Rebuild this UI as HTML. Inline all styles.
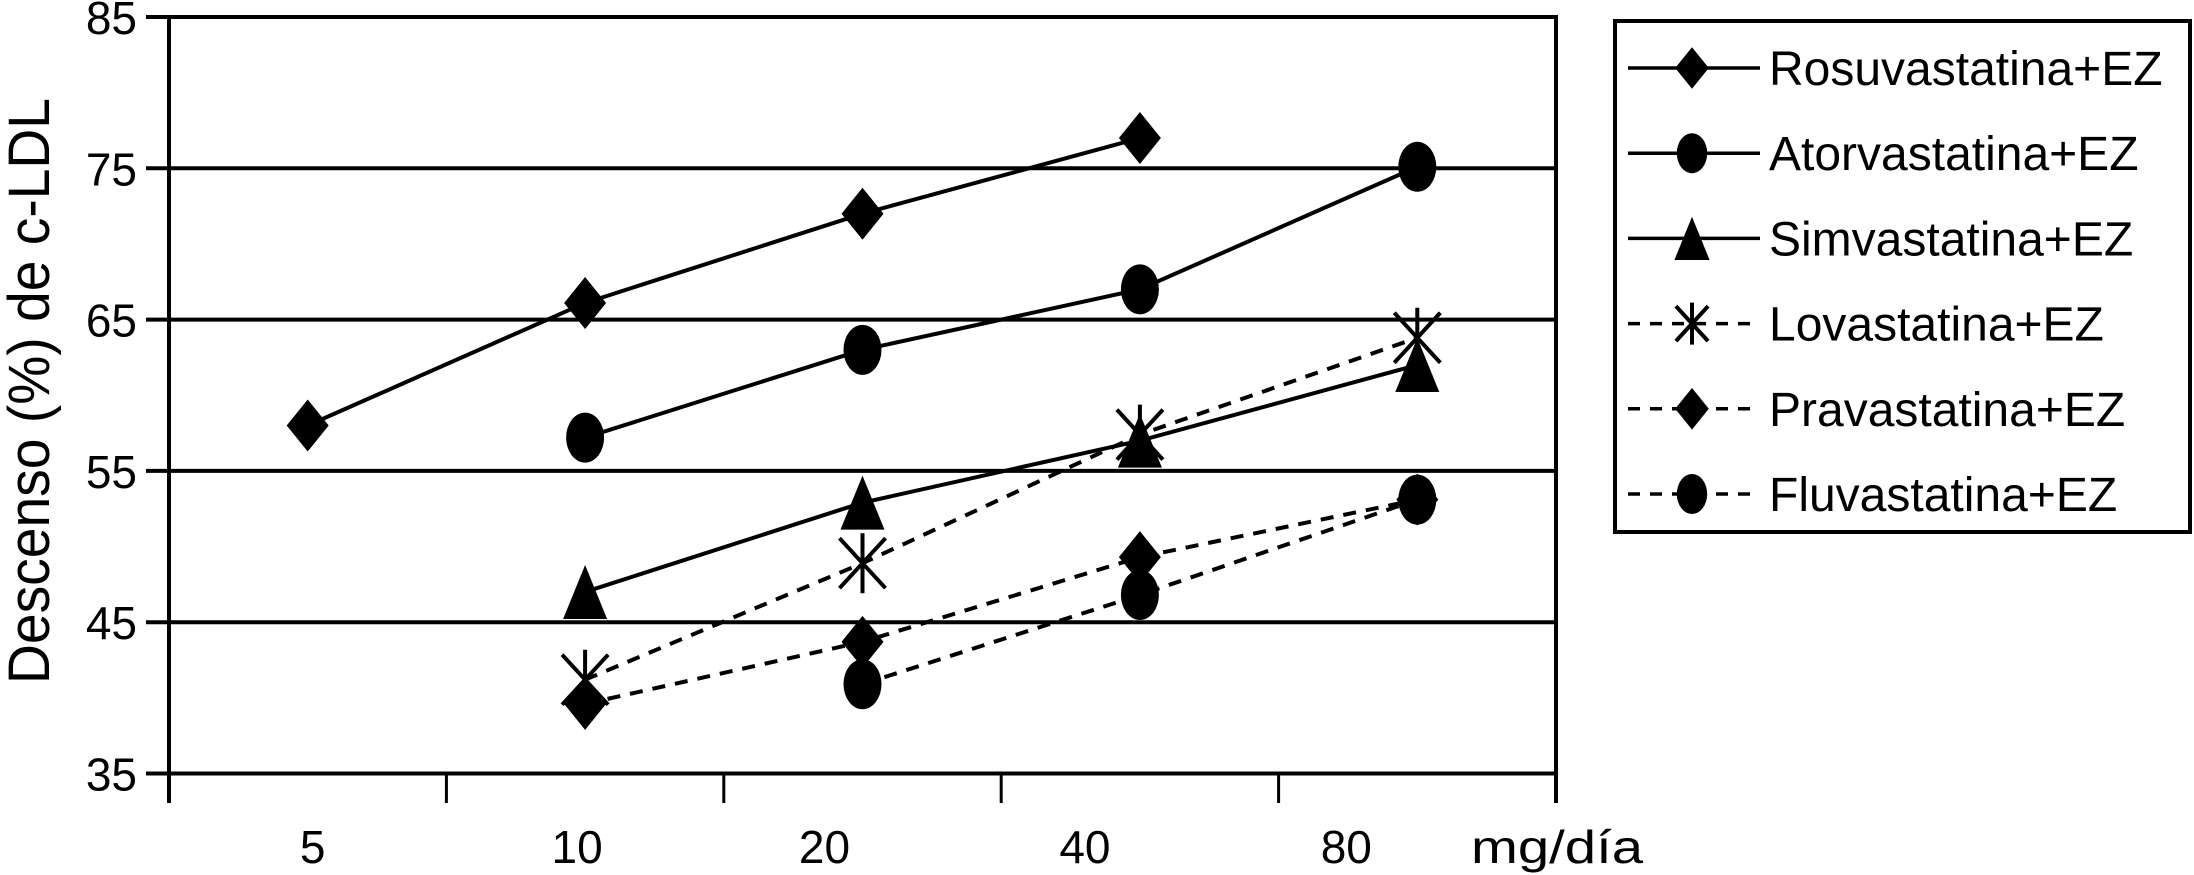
<!DOCTYPE html>
<html><head><meta charset="utf-8"><style>
html,body{margin:0;padding:0;background:#fff;}
svg{display:block;}
text{font-family:"Liberation Sans",Arial,sans-serif;fill:#000;}
</style></head><body>
<svg id="chart" width="2194" height="875" viewBox="0 0 2194 875" xmlns="http://www.w3.org/2000/svg">
<g id="grid"></g>
<g id="axes"></g>
<g id="series"></g>
<text transform="translate(49,391) rotate(-90)" text-anchor="middle" font-size="58" textLength="586" lengthAdjust="spacingAndGlyphs">Descenso (%) de c-LDL</text>
<text x="1471" y="863" font-size="46" textLength="172" lengthAdjust="spacingAndGlyphs">mg/día</text>
<g id="legend"></g>
</svg>
<script>
const categories = ["5","10","20","40","80"];
const yTicks = [35,45,55,65,75,85];
const seriesNames = ["Rosuvastatina+EZ","Atorvastatina+EZ","Simvastatina+EZ","Lovastatina+EZ","Pravastatina+EZ","Fluvastatina+EZ"];
const rosuva = [58.0,66.1,72.0,77.0,null];
const atorva = [null,57.2,63.0,67.0,75.1];
const simva  = [null,47.0,52.9,57.0,62.0];
const lova   = [null,41.2,48.9,57.4,63.8];
const prava  = [null,39.6,43.7,49.3,53.1];
const fluva  = [null,null,40.9,46.8,53.1];

const NS="http://www.w3.org/2000/svg";
const L=169,R=1556,T=17,B=773.5,Y0=35,Y1=85;
const band=(R-L)/categories.length;
const xS=i=>L+band*(i+0.5);
const yS=v=>B-(v-Y0)/(Y1-Y0)*(B-T);
function mk(tag,attrs,parent){const e=document.createElementNS(NS,tag);for(const k in attrs)e.setAttribute(k,attrs[k]);parent.appendChild(e);return e;}
const grid=document.getElementById('grid'),axes=document.getElementById('axes'),ser=document.getElementById('series'),leg=document.getElementById('legend');

yTicks.forEach(v=>{
  const y=yS(v);
  const g=mk('line',{x1:146,x2:R,y1:y,y2:y,stroke:'#000','stroke-width':4},grid);
  
  
  const t=mk('text',{x:137,y:y+17,'text-anchor':'end','font-size':46},axes);
  t.textContent=v;
  
  
});
const ya=mk('line',{x1:L,x2:L,y1:T-2,y2:803,stroke:'#000','stroke-width':4},axes);


const ra=mk('line',{x1:R,x2:R,y1:T-2,y2:803,stroke:'#000','stroke-width':4},axes);


for(let i=1;i<categories.length;i++){
  const x=L+band*i;
  const tk=mk('line',{x1:x,x2:x,y1:B,y2:803,stroke:'#000','stroke-width':3},axes);
  
  
}
const labelShift=[5,-8,-38,-55,-71];
categories.forEach((c,i)=>{
  const t=mk('text',{x:xS(i)+labelShift[i],y:863,'text-anchor':'middle','font-size':46},axes);
  t.textContent=c;
  
  
});

function marker(type,x,y,parent,s){
  s=s||1;let e;
  if(type==='diamond'){e=mk('polygon',{points:`${x},${y-26*s} ${x+21*s},${y} ${x},${y+26*s} ${x-21*s},${y}`,fill:'#000'},parent);}
  else if(type==='circle'){e=mk('ellipse',{cx:x,cy:y,rx:19*s,ry:25*s,fill:'#000'},parent);}
  else if(type==='triangle'){e=mk('polygon',{points:`${x},${y-27*s} ${x+22*s},${y+27*s} ${x-22*s},${y+27*s}`,fill:'#000'},parent);}
  else {e=mk('path',{d:`M${x},${y-30*s}V${y+30*s}M${x-23*s},${y-25*s}L${x+23*s},${y+25*s}M${x+23*s},${y-25*s}L${x-23*s},${y+25*s}`,stroke:'#000','stroke-width':4,fill:'none'},parent);}
  return e;
}
const allSeries=[rosuva,atorva,simva,lova,prava,fluva];
const markers=['diamond','circle','triangle','star','diamond','circle'];
const dashed=[false,false,false,true,true,true];
allSeries.forEach((vals,si)=>{
  const g=mk('g',{},ser);
  
  
  const pts=[];vals.forEach((v,i)=>{if(v!=null)pts.push([xS(i),yS(v)]);});
  const ln=mk('polyline',{points:pts.map(p=>p.join(',')).join(' '),fill:'none',stroke:'#000','stroke-width':4,'stroke-dasharray':dashed[si]?'13,10':'none'},g);
  
  
  pts.forEach(p=>{
    const m=marker(markers[si],p[0],p[1],g);
    
    
  });
});

const box=mk('rect',{x:1615,y:21,width:575,height:511,fill:'#fff',stroke:'#000','stroke-width':4},leg);


seriesNames.forEach((n,i)=>{
  const y=68+85.2*i;
  const g=mk('g',{},leg);
  
  
  mk('line',{x1:1628,x2:1760,y1:y,y2:y,stroke:'#000','stroke-width':3.5,'stroke-dasharray':dashed[i]?'12,10':'none'},g);
  marker(markers[i],1692,y,g,markers[i]==='star'?0.7:0.8);
  const t=mk('text',{x:1769,y:y+17,'font-size':48},g);
  t.textContent=n;
});
</script>
</body></html>
